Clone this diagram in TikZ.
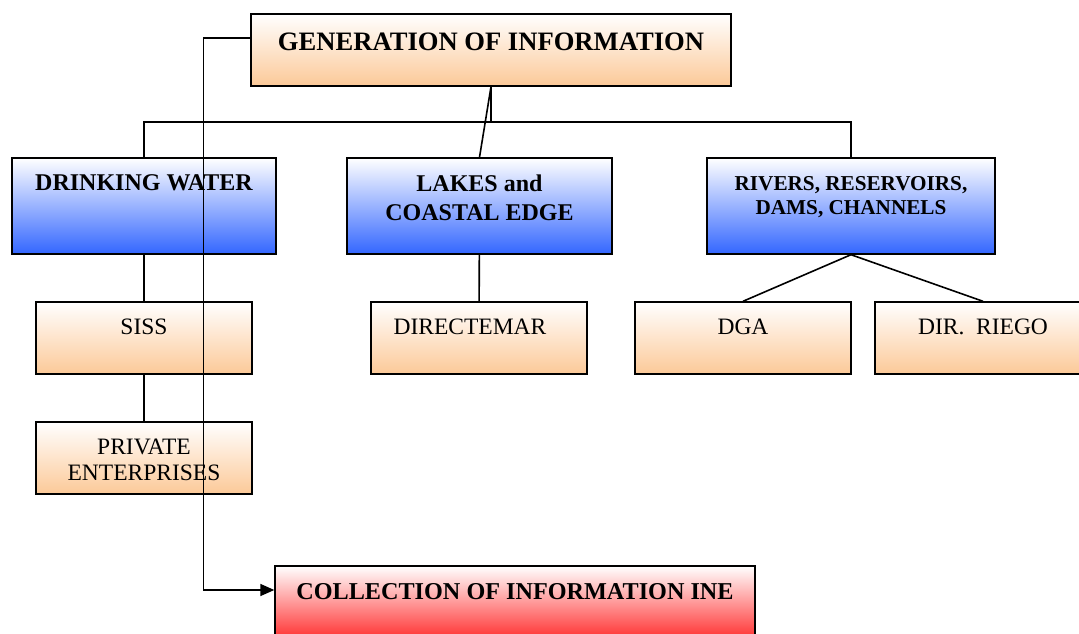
\documentclass[tikz,border=0pt]{standalone}
\usepackage{fontspec}
\setmainfont{Liberation Serif}
\usetikzlibrary{positioning,arrows.meta}
\definecolor{peach}{RGB}{252,201,152}
\definecolor{sky}{RGB}{51,102,255}
\definecolor{rose}{RGB}{255,51,51}
\tikzset{
  box/.style={draw, line width=1.4pt, inner sep=0pt, minimum width=216pt, minimum height=72pt, top color=white},
  orgbox/.style={box, bottom color=peach},
  catbox/.style={box, bottom color=sky, minimum height=96pt},
  inebox/.style={box, bottom color=rose, minimum width=480pt},
  txt/.style={inner sep=0pt, align=center},
  headtxt/.style={txt, font=\bfseries\fontsize{26.6}{32}\selectfont},
  cattxt/.style={txt, font=\bfseries\fontsize{24}{29}\selectfont},
  rivtxt/.style={txt, font=\bfseries\fontsize{21.2}{24}\selectfont},
  orgtxt/.style={txt, font=\fontsize{23.5}{26}\selectfont}
}
\begin{document}
\begin{tikzpicture}[x=1pt, y=-1pt, line width=1.6pt]
  \useasboundingbox (0,0) rectangle (1079,634);
  \node[orgbox, minimum width=480pt] (gen) at (491,50) {};
  \node[catbox, minimum width=264pt] (drink) at (144,206) {};
  \node[catbox, minimum width=265pt] (lakes) at (479.5,206) {};
  \node[catbox, minimum width=288pt] (rivers) at (851,206) {};
  \node[orgbox] (siss) at (144,338) {};
  \node[orgbox] (dirm) at (479,338) {};
  \node[orgbox] (dga) at (743,338) {};
  \node[orgbox] (riego) at (983,338) {};
  \node[orgbox] (priv) at (144,458) {};
  \node[inebox] (ine) at (515,602) {};
  \node[headtxt, below=19pt of gen.north] (gen-t) {GENERATION OF INFORMATION};
  \node[cattxt, below=17pt of drink.north] (drink-t) {DRINKING WATER};
  \node[cattxt, below=17pt of lakes.north] (lakes-t) {LAKES and\\COASTAL EDGE};
  \node[rivtxt, below=18pt of rivers.north] (rivers-t) {RIVERS, RESERVOIRS,\\DAMS, CHANNELS};
  \node[orgtxt, below=17pt of siss.north] (siss-t) {SISS};
  \node[orgtxt, below=17pt of dirm.north, xshift=-9pt] (dirm-t) {DIRECTEMAR};
  \node[orgtxt, below=17pt of dga.north] (dga-t) {DGA};
  \node[orgtxt, below=17pt of riego.north] (riego-t) {DIR.\ \ RIEGO};
  \node[orgtxt, below=17pt of priv.north] (priv-t) {PRIVATE\\ENTERPRISES};
  \node[headtxt, font=\bfseries\fontsize{24.2}{29}\selectfont, below=17pt of ine.north] (ine-t) {COLLECTION OF INFORMATION INE};
  \coordinate (bus) at (491,122);
  \draw (gen.south) -- (bus);
  \draw (drink.north) |- (bus) -| (rivers.north);
  \draw (gen.south) -- (lakes.north);
  \draw (drink) -- (siss);
  \draw (siss) -- (priv);
  \draw (lakes) -- (dirm);
  \draw (rivers.south) -- (dga.north);
  \draw (rivers.south) -- (riego.north);
  \draw[-{Triangle[length=14pt,width=12pt]}] ([yshift=12pt]gen.west) -- ++(-47,0) |- ([yshift=12pt]ine.west);
\end{tikzpicture}
\end{document}
